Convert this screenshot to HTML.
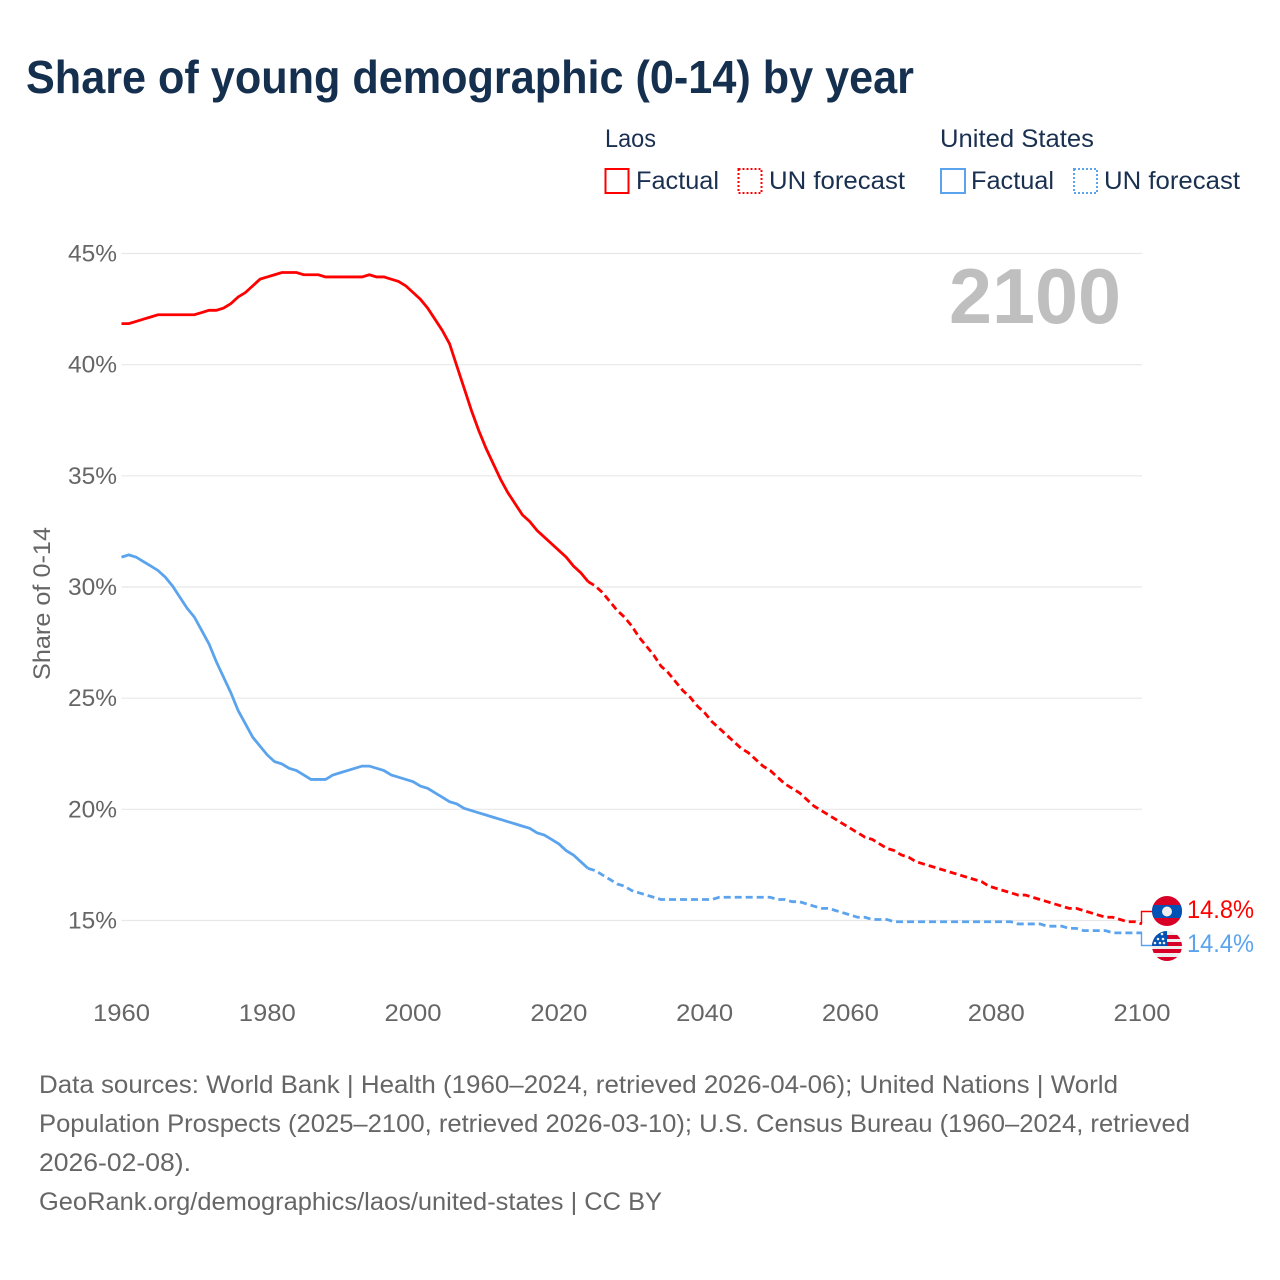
<!DOCTYPE html>
<html lang="en">
<head>
<meta charset="utf-8">
<title>Share of young demographic (0-14) by year</title>
<style>
html,body{margin:0;padding:0;background:#fff}
svg{display:block}
text{font-family:"Liberation Sans",sans-serif}
</style>
</head>
<body>
<svg id="chart" xmlns="http://www.w3.org/2000/svg" width="1280" height="1280" viewBox="0 0 1280 1280">
  <defs>
    <clipPath id="clip-laos"><circle cx="1167" cy="911" r="15"/></clipPath>
    <clipPath id="clip-us"><circle cx="1167" cy="946" r="15"/></clipPath>
  </defs>
  <rect width="1280" height="1280" fill="#fff"/>
  <text x="26" y="93" font-size="46" font-weight="700" fill="#152f4f" textLength="888" lengthAdjust="spacingAndGlyphs">Share of young demographic (0-14) by year</text>

  <g font-size="25" fill="#1a3050">
    <text x="605" y="147" textLength="51" lengthAdjust="spacingAndGlyphs">Laos</text>
    <rect x="605.500" y="169" width="23" height="24" fill="none" stroke="#ff0000" stroke-width="2"/>
    <text x="636" y="189" textLength="83" lengthAdjust="spacingAndGlyphs">Factual</text>
    <rect x="738.500" y="169" width="23" height="24" fill="none" stroke="#ff0000" stroke-width="2" stroke-dasharray="2 2"/>
    <text x="769" y="189" textLength="136" lengthAdjust="spacingAndGlyphs">UN forecast</text>
    <text x="940" y="147" textLength="154" lengthAdjust="spacingAndGlyphs">United States</text>
    <rect x="941" y="169" width="24" height="24" fill="none" stroke="#5ba4ed" stroke-width="2"/>
    <text x="971" y="189" textLength="83" lengthAdjust="spacingAndGlyphs">Factual</text>
    <rect x="1074" y="169" width="23" height="24" fill="none" stroke="#5ba4ed" stroke-width="2" stroke-dasharray="2 2"/>
    <text x="1104" y="189" textLength="136" lengthAdjust="spacingAndGlyphs">UN forecast</text>
  </g>

  <g id="grid"></g>
  <g id="ylabels"></g>
  <g id="xlabels"></g>
  <text transform="translate(50,680) rotate(-90)" font-size="24" fill="#666" textLength="153" lengthAdjust="spacingAndGlyphs">Share of 0-14</text>
  <text x="949" y="323" font-size="78" font-weight="700" fill="#bfbfbf" textLength="172" lengthAdjust="spacingAndGlyphs">2100</text>

  <g id="series" transform="translate(0,-1)"></g>

  <path d="M1141.500 923V911.500H1152" fill="none" stroke="#ff0000" stroke-width="1.400"/>
  <path d="M1141.500 932V945.500H1152" fill="none" stroke="#5ba4ed" stroke-width="1.400"/>

  <g clip-path="url(#clip-us)">
    <rect x="1152" y="931" width="30" height="30" fill="#eeeeee"/>
    <rect x="1152" y="935" width="30" height="4" fill="#d80027"/>
    <rect x="1152" y="942" width="30" height="4" fill="#d80027"/>
    <rect x="1152" y="949" width="30" height="4" fill="#d80027"/>
    <rect x="1152" y="957" width="30" height="4" fill="#d80027"/>
    <rect x="1152" y="931" width="15" height="15" fill="#0052b4"/>
    <circle cx="1158" cy="939" r="1.300" fill="#eee"/>
    <circle cx="1163" cy="939" r="1.300" fill="#eee"/>
    <circle cx="1160" cy="943" r="1.300" fill="#eee"/>
    <circle cx="1155" cy="943" r="1.300" fill="#eee"/>
    <circle cx="1164" cy="943" r="1.300" fill="#eee"/>
    <circle cx="1162" cy="934" r="1.300" fill="#eee"/>
  </g>
  <g clip-path="url(#clip-laos)">
    <rect x="1152" y="896" width="30" height="31" fill="#d80027"/>
    <rect x="1152" y="905" width="30" height="13" fill="#0052b4"/>
    <circle cx="1167" cy="911.500" r="5" fill="#eeeeee"/>
  </g>
  <text x="1187" y="918" font-size="25" fill="#ff0000" textLength="67" lengthAdjust="spacingAndGlyphs">14.8%</text>
  <text x="1187" y="952" font-size="25" fill="#5ba4ed" textLength="67" lengthAdjust="spacingAndGlyphs">14.4%</text>

  <g font-size="25" fill="#666">
    <text x="39" y="1093" textLength="1079" lengthAdjust="spacingAndGlyphs">Data sources: World Bank | Health (1960–2024, retrieved 2026-04-06); United Nations | World</text>
    <text x="39" y="1132" textLength="1151" lengthAdjust="spacingAndGlyphs">Population Prospects (2025–2100, retrieved 2026-03-10); U.S. Census Bureau (1960–2024, retrieved</text>
    <text x="39" y="1171" textLength="152" lengthAdjust="spacingAndGlyphs">2026-02-08).</text>
    <text x="39" y="1210" textLength="623" lengthAdjust="spacingAndGlyphs">GeoRank.org/demographics/laos/united-states | CC BY</text>
  </g>
</svg>
<script>
const startYear = 1960;
const forecastStartYear = 2024;
const yTicks = [15, 20, 25, 30, 35, 40, 45];
const xTicks = [1960, 1980, 2000, 2020, 2040, 2060, 2080, 2100];

const laosFactual = [41.8,41.8,41.9,42.0,42.1,42.2,42.2,42.2,42.2,42.2,42.2,42.3,42.4,42.4,42.5,42.7,43.0,43.2,43.5,43.8,43.9,44.0,44.1,44.1,44.1,44.0,44.0,44.0,43.9,43.9,43.9,43.9,43.9,43.9,44.0,43.9,43.9,43.8,43.7,43.5,43.2,42.9,42.5,42.0,41.5,40.9,39.9,38.9,37.9,37.0,36.2,35.5,34.8,34.2,33.7,33.2,32.9,32.5,32.2,31.9,31.6,31.3,30.9,30.6,30.2];
const laosForecast = [30.2,30.0,29.7,29.3,28.9,28.6,28.2,27.7,27.3,26.9,26.4,26.1,25.7,25.3,25.0,24.6,24.3,23.9,23.6,23.3,23.0,22.7,22.5,22.2,21.9,21.7,21.4,21.1,20.9,20.7,20.4,20.1,19.9,19.7,19.5,19.3,19.1,18.9,18.7,18.6,18.4,18.2,18.1,17.9,17.8,17.6,17.5,17.4,17.3,17.2,17.1,17.0,16.9,16.8,16.7,16.5,16.4,16.3,16.2,16.1,16.1,16.0,15.9,15.8,15.7,15.6,15.5,15.5,15.4,15.3,15.2,15.1,15.1,15.0,14.9,14.9,14.8];
const usFactual = [31.3,31.4,31.3,31.1,30.9,30.7,30.4,30.0,29.5,29.0,28.6,28.0,27.4,26.6,25.9,25.2,24.4,23.8,23.2,22.8,22.4,22.1,22.0,21.8,21.7,21.5,21.3,21.3,21.3,21.5,21.6,21.7,21.8,21.9,21.9,21.8,21.7,21.5,21.4,21.3,21.2,21.0,20.9,20.7,20.5,20.3,20.2,20.0,19.9,19.8,19.7,19.6,19.5,19.4,19.3,19.2,19.1,18.9,18.8,18.6,18.4,18.1,17.9,17.6,17.3];
const usForecast = [17.3,17.2,17.0,16.8,16.6,16.5,16.3,16.2,16.1,16.0,15.9,15.9,15.9,15.9,15.9,15.9,15.9,15.9,16.0,16.0,16.0,16.0,16.0,16.0,16.0,16.0,15.9,15.9,15.8,15.8,15.7,15.6,15.5,15.5,15.4,15.3,15.2,15.1,15.1,15.0,15.0,15.0,14.9,14.9,14.9,14.9,14.9,14.9,14.9,14.9,14.9,14.9,14.9,14.9,14.9,14.9,14.9,14.9,14.9,14.8,14.8,14.8,14.8,14.7,14.7,14.7,14.6,14.6,14.5,14.5,14.5,14.5,14.4,14.4,14.4,14.4,14.4];

function xScale(year) { return 121.5 + (year - 1960) * (1142 - 121.5) / 140; }
function yScale(pct) { return 920.5 - (pct - 15) * (920.5 - 253.5) / 30; }

const NS = 'http://www.w3.org/2000/svg';

const gridGroup = document.getElementById('grid');
const yLabelGroup = document.getElementById('ylabels');
yTicks.forEach(function (t) {
  const line = document.createElementNS(NS, 'line');
  
  
  line.setAttribute('x1', xScale(1960));
  line.setAttribute('x2', xScale(2100));
  line.setAttribute('y1', yScale(t));
  line.setAttribute('y2', yScale(t));
  line.setAttribute('stroke', '#e8e8e8');
  line.setAttribute('stroke-width', '1.2');
  gridGroup.appendChild(line);

  const label = document.createElementNS(NS, 'text');
  
  
  label.setAttribute('x', 68);
  label.setAttribute('y', yScale(t) + 8);
  label.setAttribute('font-size', '24');
  label.setAttribute('fill', '#666');
  label.setAttribute('textLength', '49');
  label.setAttribute('lengthAdjust', 'spacingAndGlyphs');
  label.textContent = t + '%';
  yLabelGroup.appendChild(label);
});

const xLabelGroup = document.getElementById('xlabels');
xTicks.forEach(function (t) {
  const label = document.createElementNS(NS, 'text');
  
  
  label.setAttribute('x', xScale(t) - 28.5);
  label.setAttribute('y', 1021);
  label.setAttribute('font-size', '24');
  label.setAttribute('fill', '#666');
  label.setAttribute('textLength', '57');
  label.setAttribute('lengthAdjust', 'spacingAndGlyphs');
  label.textContent = t;
  xLabelGroup.appendChild(label);
});

function buildPath(values, firstYear) {
  return values.map(function (v, i) {
    return (i ? 'L' : 'M') + xScale(firstYear + i).toFixed(2) + ' ' + yScale(v).toFixed(2);
  }).join('');
}

const seriesGroup = document.getElementById('series');

const usForecastLine = document.createElementNS(NS, 'path');


usForecastLine.setAttribute('d', buildPath(usForecast, forecastStartYear));
usForecastLine.setAttribute('fill', 'none');
usForecastLine.setAttribute('stroke', '#5ba4ed');
usForecastLine.setAttribute('stroke-width', '2.8');
usForecastLine.setAttribute('stroke-dasharray', '7 4');
seriesGroup.appendChild(usForecastLine);

const usFactualLine = document.createElementNS(NS, 'path');


usFactualLine.setAttribute('d', buildPath(usFactual, startYear));
usFactualLine.setAttribute('fill', 'none');
usFactualLine.setAttribute('stroke', '#5ba4ed');
usFactualLine.setAttribute('stroke-width', '2.8');
seriesGroup.appendChild(usFactualLine);

const laosForecastLine = document.createElementNS(NS, 'path');


laosForecastLine.setAttribute('d', buildPath(laosForecast, forecastStartYear));
laosForecastLine.setAttribute('fill', 'none');
laosForecastLine.setAttribute('stroke', '#ff0000');
laosForecastLine.setAttribute('stroke-width', '2.8');
laosForecastLine.setAttribute('stroke-dasharray', '7 4');
seriesGroup.appendChild(laosForecastLine);

const laosFactualLine = document.createElementNS(NS, 'path');


laosFactualLine.setAttribute('d', buildPath(laosFactual, startYear));
laosFactualLine.setAttribute('fill', 'none');
laosFactualLine.setAttribute('stroke', '#ff0000');
laosFactualLine.setAttribute('stroke-width', '2.8');
seriesGroup.appendChild(laosFactualLine);
</script>
</body>
</html>
